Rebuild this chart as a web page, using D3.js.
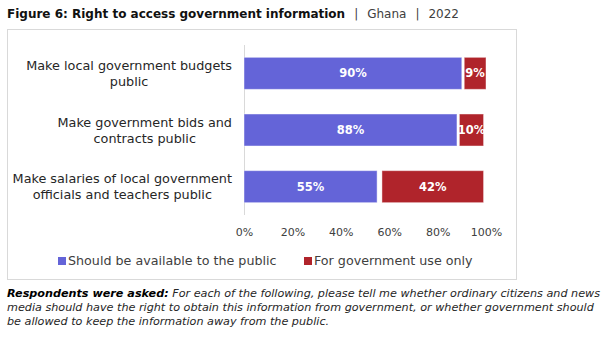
<!DOCTYPE html>
<html>
<head>
<meta charset="utf-8">
<script src="https://cdn.jsdelivr.net/npm/d3@7"></script>
<style>
  body { margin: 0; background: #fff; }
  text { font-family: "DejaVu Sans", sans-serif; }
</style>
</head>
<body>
<svg id="chart" width="602" height="340"></svg>
<script>
/* DATA */
const categories = [
  ["Make local government budgets", "public"],
  ["Make government bids and", "contracts public"],
  ["Make salaries of local government", "officials and teachers public"]
];
const availablePublic = [90, 88, 55];
const dontKnow = [1, 1, 2];          // not labelled, leaves the white gap
const governmentOnly = [9, 10, 42];
const tickValues = [0, 20, 40, 60, 80, 100];
const seriesNames = ["Should be available to the public", "For government use only"];

/* CONSTANTS */
const blue = "#6464d8",
  red = "#b0242b",
  textColor = "#262626";

const svg = d3.select("#chart");

// title
const title = svg.append("text")
  .attr("x", 7)
  .attr("y", 18)
  .style("font-size", "12px")
  .attr("fill", "#111");
title.append("tspan").style("font-weight", "bold").text("Figure 6: Right to access government information");
["|", "Ghana", "|", "2022"].forEach(s => {
  title.append("tspan").attr("dx", 9).attr("fill", "#404040").text(s);
});

// chart frame
svg.append("rect")
  .attr("x", 7.5)
  .attr("y", 29.5)
  .attr("width", 509)
  .attr("height", 250)
  .attr("fill", "#fff")
  .attr("stroke", "#d9d9d9");

// SCALES
const keys = categories.map(d => d.join(" "));
const rows = keys.map((k, i) => ({
  key: k,
  pub: availablePublic[i],
  dk: dontKnow[i],
  gov: governmentOnly[i]
}));

const xScale = d3.scaleLinear()
  .domain([0, 100])
  .range([244, 486]);

const yScale = d3.scaleBand()
  .domain(keys)
  .range([45, 215])
  .paddingInner(0.435)
  .paddingOuter(0.2175);

// AXES
const xAxis = d3.axisBottom(xScale)
  .tickValues(tickValues)
  .tickFormat(d => d + "%")
  .tickSize(0)
  .tickPadding(13);

svg.append("g")
  .attr("transform", `translate(0, 215)`)
  .call(xAxis)
  .call(g => g.select(".domain").remove())
  .call(g => g.selectAll("text")
    .attr("fill", "#404040")
    .style("font-size", "11px")
    .style("font-family", "'DejaVu Sans', sans-serif"));

svg.append("line")
  .attr("x1", xScale(0) + 0.5)
  .attr("x2", xScale(0) + 0.5)
  .attr("y1", 45)
  .attr("y2", 215)
  .attr("stroke", "#d9d9d9");

// BARS
const stack = d3.stack().keys(["pub", "dk", "gov"]);
const stacked = stack(rows);
const fills = { pub: blue, dk: "none", gov: red };

const layers = svg.selectAll("g.layer")
  .data(stacked)
  .join("g")
  .attr("class", "layer");

layers.selectAll("rect")
  .data(d => d.map(v => Object.assign(v, { k: d.key })))
  .join("rect")
  .attr("x", d => xScale(d[0]))
  .attr("y", d => yScale(d.data.key))
  .attr("width", d => xScale(d[1]) - xScale(d[0]))
  .attr("height", yScale.bandwidth())
  .attr("fill", d => fills[d.k])
  .attr("stroke", d => d.k === "dk" ? "none" : "#fff")
  .attr("stroke-opacity", 0.45)
  .attr("stroke-width", 1);

// value labels
layers.filter(d => d.key !== "dk")
  .selectAll("text")
  .data(d => d)
  .join("text")
  .attr("x", d => (xScale(d[0]) + xScale(d[1])) / 2)
  .attr("y", d => yScale(d.data.key) + yScale.bandwidth() / 2)
  .attr("dy", "0.36em")
  .attr("text-anchor", "middle")
  .attr("fill", "#fff")
  .style("font-weight", "bold")
  .style("font-size", "11.5px")
  .text(d => (d[1] - d[0]) + "%");

// category labels: lines centred inside a right-aligned block
categories.forEach((lines, i) => {
  const cy = yScale(keys[i]) + yScale.bandwidth() / 2;
  const g = svg.append("g");
  const t = g.selectAll("text")
    .data(lines)
    .join("text")
    .attr("text-anchor", "middle")
    .attr("y", (d, j) => cy + (j - (lines.length - 1) / 2) * 16 + 4.5)
    .attr("fill", textColor)
    .style("font-size", "12.8px")
    .text(d => d);
  const w = d3.max(t.nodes(), n => n.getComputedTextLength());
  g.attr("transform", `translate(${232 - w / 2}, 0)`);
});

// LEGEND
const legendX = [58, 304];
const legendColors = [blue, red];
const legend = svg.selectAll("g.legend")
  .data(seriesNames)
  .join("g")
  .attr("class", "legend")
  .attr("transform", (d, i) => `translate(${legendX[i]}, 257)`);

legend.append("rect")
  .attr("width", 8)
  .attr("height", 8)
  .attr("fill", (d, i) => legendColors[i]);

legend.append("text")
  .attr("x", 10)
  .attr("y", 7.5)
  .attr("fill", "#404040")
  .style("font-size", "12.7px")
  .text(d => d);

// FOOTNOTE
const note = [
  ["Respondents were asked:", " For each of the following, please tell me whether ordinary citizens and news"],
  ["", "media should have the right to obtain this information from government, or whether government should"],
  ["", "be allowed to keep the information away from the public."]
];
note.forEach((parts, i) => {
  const t = svg.append("text")
    .attr("x", 7)
    .attr("y", 296.5 + i * 14.2)
    .attr("fill", textColor)
    .style("font-size", "11.2px")
    .style("font-style", "italic");
  if (parts[0]) t.append("tspan").style("font-weight", "bold").attr("fill", "#000").text(parts[0]);
  t.append("tspan").text(parts[1]);
});
</script>
</body>
</html>
